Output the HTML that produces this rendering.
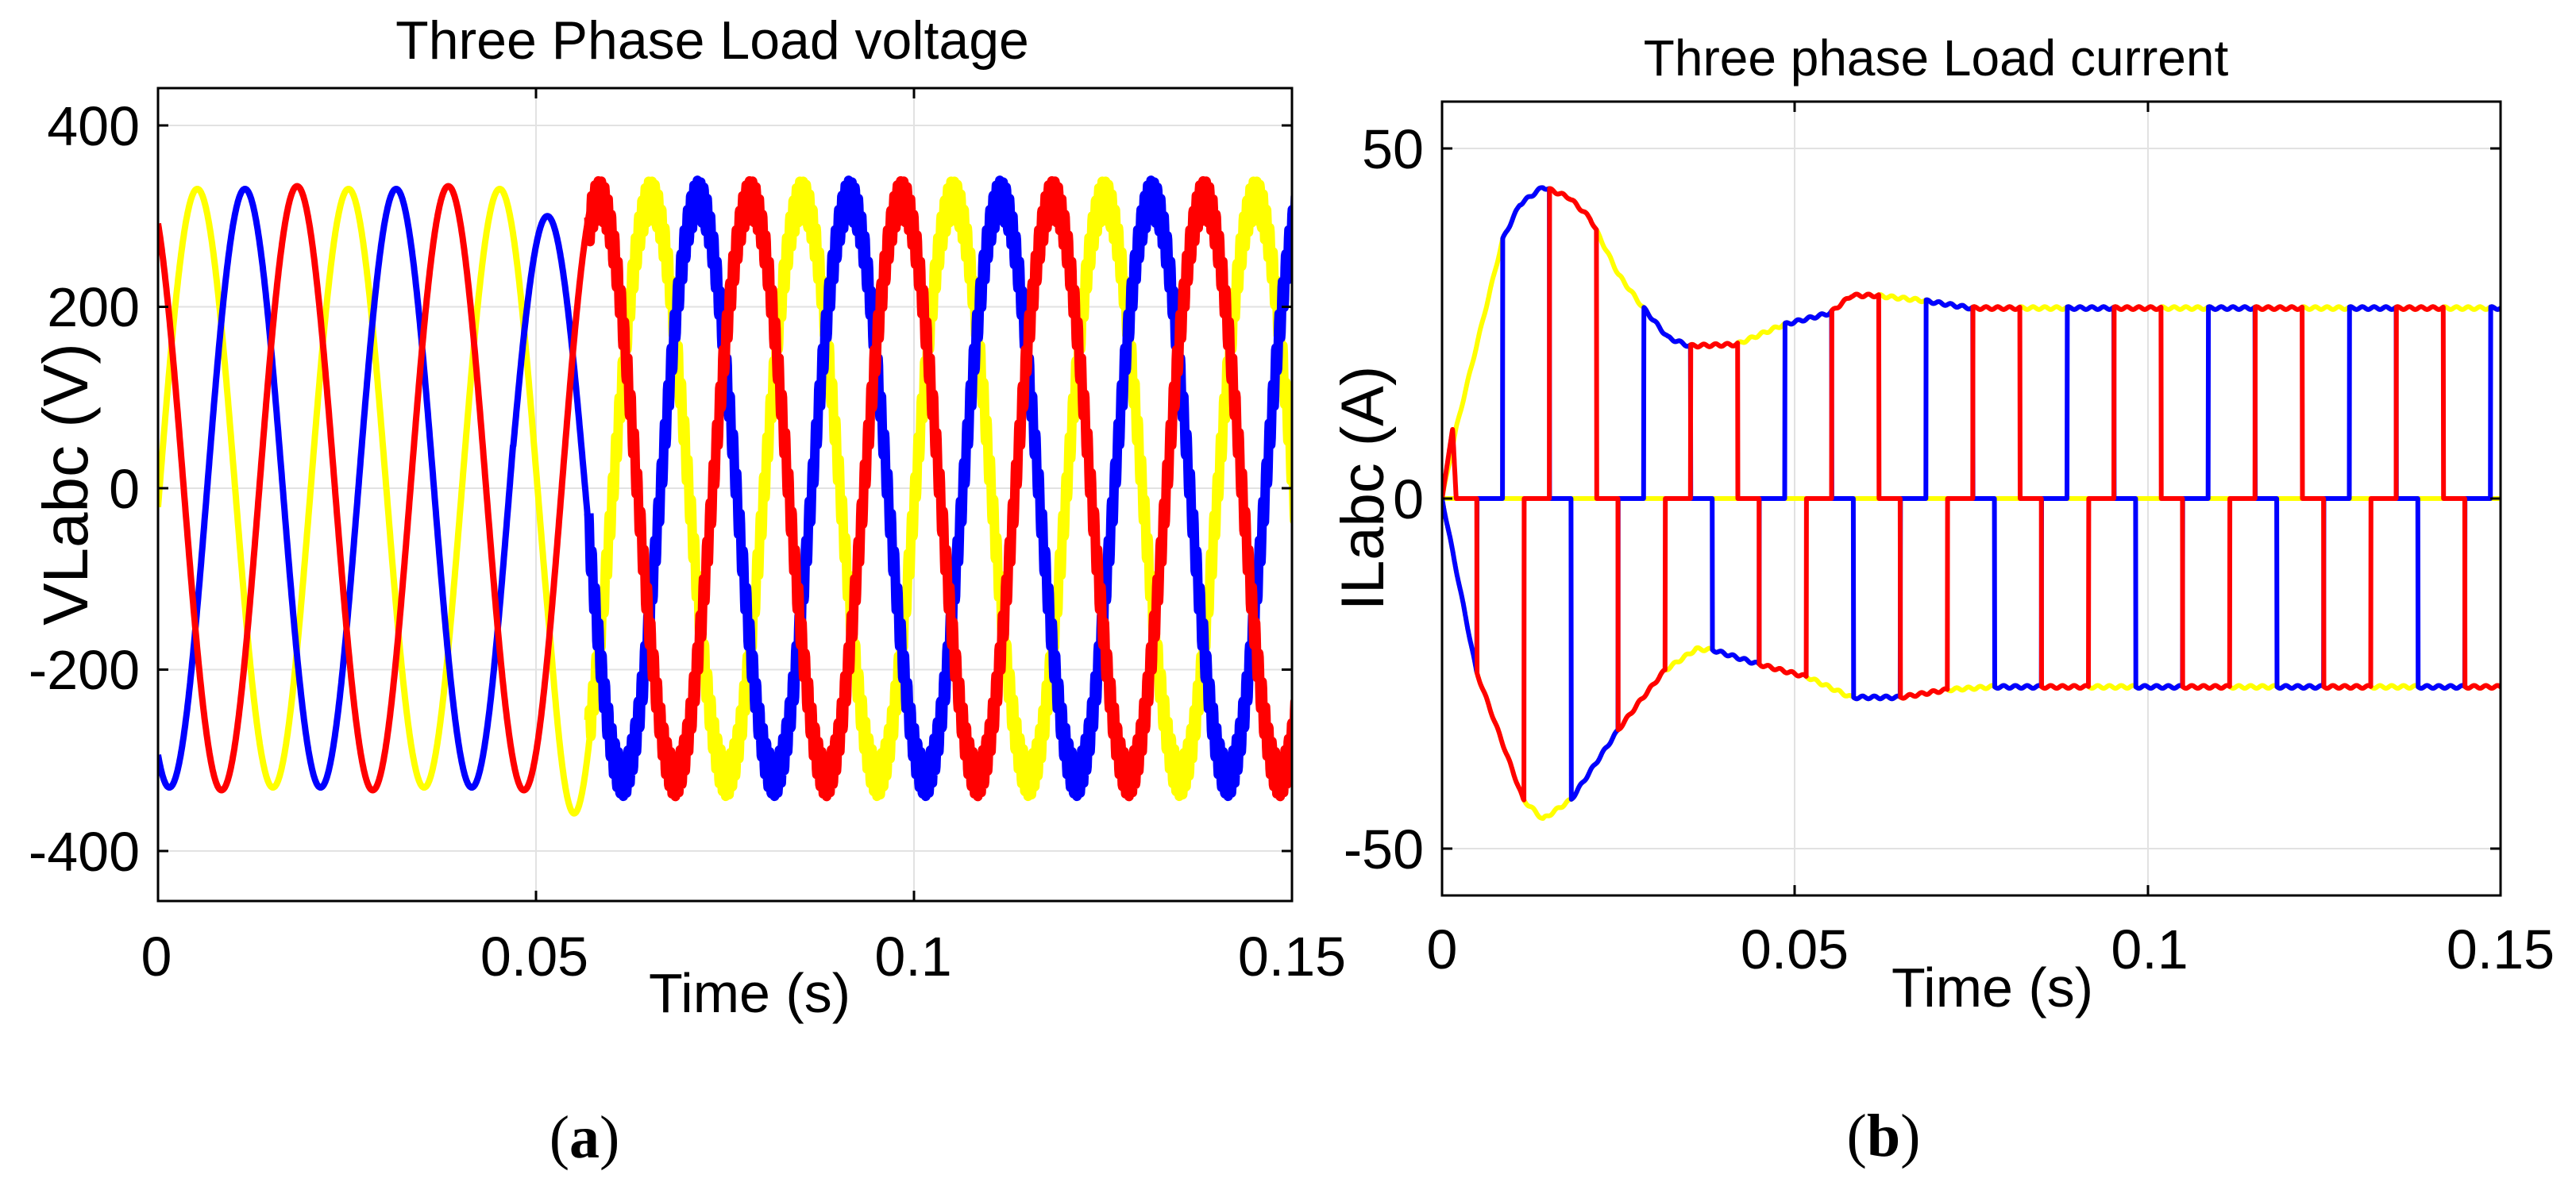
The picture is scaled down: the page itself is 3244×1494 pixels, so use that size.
<!DOCTYPE html>
<html><head><meta charset="utf-8">
<style>
html,body{margin:0;padding:0;background:#fff;}
svg{display:block;}
text{font-family:"Liberation Sans",Arial,sans-serif;fill:#000;}
</style></head>
<body>
<svg id="s" width="3244" height="1494" viewBox="0 0 3244 1494" xmlns="http://www.w3.org/2000/svg">
<defs>
<clipPath id="ca"><rect x="199" y="111" width="1428" height="1024"/></clipPath>
<clipPath id="cb"><rect x="1816" y="128" width="1333" height="1000"/></clipPath>
</defs>
<rect width="3244" height="1494" fill="#fff"/>
<g stroke="#e2e2e2" stroke-width="2">
<line x1="199" y1="158" x2="1627" y2="158"/><line x1="199" y1="386.5" x2="1627" y2="386.5"/>
<line x1="199" y1="615" x2="1627" y2="615"/><line x1="199" y1="843.5" x2="1627" y2="843.5"/>
<line x1="199" y1="1072" x2="1627" y2="1072"/>
<line x1="675" y1="111" x2="675" y2="1135"/><line x1="1151" y1="111" x2="1151" y2="1135"/>
<line x1="1816" y1="187" x2="3149" y2="187"/><line x1="1816" y1="628" x2="3149" y2="628"/>
<line x1="1816" y1="1069" x2="3149" y2="1069"/>
<line x1="2260" y1="128" x2="2260" y2="1128"/><line x1="2705" y1="128" x2="2705" y2="1128"/>
</g>
<g id="ga" clip-path="url(#ca)" fill="none" stroke-linejoin="round"></g>
<g id="gb" clip-path="url(#cb)" fill="none" stroke-linejoin="round" stroke-width="6"></g>
<g stroke="#000" stroke-width="3" fill="none">
<rect x="199" y="111" width="1428" height="1024"/>
<rect x="1816" y="128" width="1333" height="1000"/>
<path d="M199 158h13M199 386.5h13M199 615h13M199 843.5h13M199 1072h13M1627 158h-13M1627 386.5h-13M1627 615h-13M1627 843.5h-13M1627 1072h-13M675 1135v-13M1151 1135v-13M675 111v13M1151 111v13"/>
<path d="M1816 187h13M1816 628h13M1816 1069h13M3149 187h-13M3149 628h-13M3149 1069h-13M2260 1128v-13M2705 1128v-13M2260 128v13M2705 128v13"/>
</g>
<text x="897" y="74" font-size="68" text-anchor="middle">Three Phase Load voltage</text>
<g font-size="70" text-anchor="end">
<text x="176" y="183">400</text><text x="176" y="411">200</text><text x="176" y="640">0</text>
<text x="176" y="868">-200</text><text x="176" y="1097">-400</text>
</g>
<g font-size="70" text-anchor="middle">
<text x="197" y="1229">0</text><text x="673" y="1229">0.05</text><text x="1150" y="1229">0.1</text><text x="1627" y="1229">0.15</text>
<text x="944" y="1275">Time (s)</text>
<text transform="translate(110,610) rotate(-90)" font-size="80">VLabc (V)</text>
</g>
<text x="2438" y="95" font-size="64" text-anchor="middle">Three phase Load current</text>
<g font-size="70" text-anchor="end">
<text x="1793" y="212">50</text><text x="1793" y="653">0</text><text x="1793" y="1094">-50</text>
</g>
<g font-size="70" text-anchor="middle">
<text x="1816" y="1220">0</text><text x="2260" y="1220">0.05</text><text x="2707" y="1220">0.1</text><text x="3149" y="1220">0.15</text>
<text x="2509" y="1268">Time (s)</text>
<text transform="translate(1742,615) rotate(-90)" font-size="76">ILabc (A)</text>
</g>
<text x="736" y="1458" font-size="76" text-anchor="middle" style="font-family:'Liberation Serif',serif">(<tspan font-weight="bold">a</tspan>)</text>
<text x="2372" y="1456" font-size="76" text-anchor="middle" style="font-family:'Liberation Serif',serif">(<tspan font-weight="bold">b</tspan>)</text>
</svg>
<script>
(function(){
var NS="http://www.w3.org/2000/svg";
function add(g,d,c,w){var p=document.createElementNS(NS,"path");p.setAttribute("d",d);p.setAttribute("stroke",c);if(w)p.setAttribute("stroke-width",w);g.appendChild(p);}
var xa=function(t){return 199+t/0.15*1428;}, ya=function(v){return 615-v*1.1425;};
var ga=document.getElementById("ga");
var W=2*Math.PI*50;
var ph=[["#ffff00",0.0052,330],["#0000ff",0.0115,330],["#ff0000",0.0184,333]];
ph.forEach(function(p,i){
  var d1="",d2="",t;
  for(t=0;t<=0.0572;t+=0.00005){
    var a=p[2];
    if(i==1&&t>0.047) a=300;
    var v=a*Math.cos(W*(t-p[1]));
    if(i==0&&t>0.052&&t<0.0572) v-=30*Math.sin(Math.PI*(t-0.052)/0.0052);
    d1+=(d1?"L":"M")+xa(t).toFixed(1)+" "+ya(v).toFixed(1);
  }
  for(t=0.057;t<=0.1505;t+=0.00005){
    var v=318*Math.cos(W*(t-p[1]))+22*Math.sin(2*Math.PI*2300*t+i);
    d2+=(d2?"L":"M")+xa(t).toFixed(1)+" "+ya(v).toFixed(1);
  }
  add(ga,d1,p[0],8);
  add(ga,d2,p[0],12);
});
var xb=function(t){return 1816+t/0.15*1333;}, yb=function(i){return 628-i*8.82;};
var gb=document.getElementById("gb");
var top=[[0,0],[0.002,10],[0.0086,37],[0.011,42],[0.0143,44.5],[0.018,43],[0.021,40],[0.025,32],[0.0283,27.5],[0.032,23],[0.035,21.8],[0.0417,22],[0.0483,24.8],[0.055,26.5],[0.058,29],[0.0615,29],[0.068,28.3],[0.075,27.2],[0.151,27.2]];
var bot=[[0,0],[0.0049,24.8],[0.0115,43],[0.0143,45.8],[0.0183,43],[0.025,33],[0.028,29],[0.0315,24.6],[0.036,21.5],[0.0383,21.6],[0.045,23.7],[0.0518,25.5],[0.058,28.4],[0.0649,28.4],[0.0717,27.3],[0.078,26.9],[0.151,26.9]];
function interp(a,t){for(var k=1;k<a.length;k++){if(t<=a[k][0]){var f=(t-a[k-1][0])/(a[k][0]-a[k-1][0]);return a[k-1][1]+f*(a[k][1]-a[k-1][1]);}}return a[a.length-1][1];}
var P=0.02,S=P/3;
function inseg(t,t0){var p=((t-t0)%P+P)%P;return p<S;}
function Etop(t){return interp(top,t)+0.2*Math.sin(2*Math.PI*600*t);}
function Ebot(t){return interp(bot,t)+0.2*Math.sin(2*Math.PI*600*t);}
var dt=0.00004,t;
var dy1="",dy2="";
for(t=0;t<=0.1502;t+=dt){
  dy1+=(dy1?"L":"M")+xb(t).toFixed(1)+" "+yb(Etop(t)).toFixed(1);
  dy2+=(dy2?"L":"M")+xb(t).toFixed(1)+" "+yb(-Ebot(t)).toFixed(1);
}
add(gb,dy1,"#ffff00");add(gb,dy2,"#ffff00");
add(gb,"M1816 628H3149","#ffff00");
var bm=-0.00172,bp=0.00857;
function blue(t){if(inseg(t,bp))return Etop(t);if(inseg(t,bm))return -Ebot(t);return 0;}
function red(t){if(t<0.0035){if(t<0.0015)return 10*t/0.0015;if(t<0.002)return 10*(0.002-t)/0.0005;return 0;}
  if(inseg(t,bp+S))return Etop(t);if(inseg(t,bm+S))return -Ebot(t);return 0;}
[[blue,"#0000ff"],[red,"#ff0000"]].forEach(function(f){
  var d="";
  for(t=0;t<=0.1502;t+=dt){d+=(d?"L":"M")+xb(t).toFixed(1)+" "+yb(f[0](t)).toFixed(1);}
  add(gb,d,f[1]);
});
})();
</script>
</body></html>
